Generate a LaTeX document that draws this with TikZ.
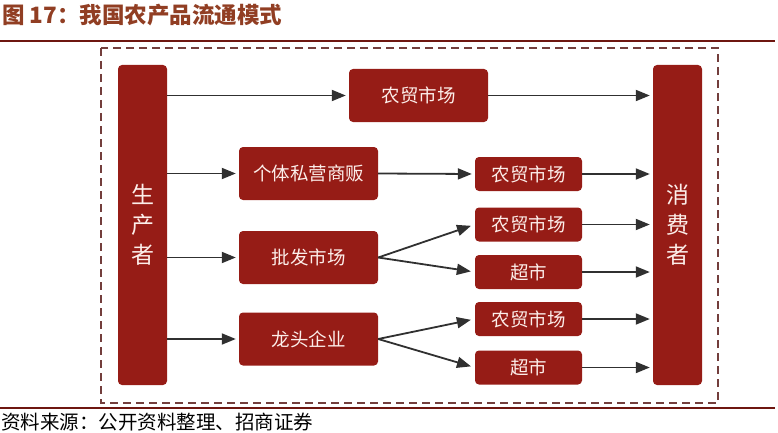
\documentclass[tikz,border=0pt]{standalone}
\usepackage{fontspec}
\setmainfont{Noto Sans CJK SC}
\usetikzlibrary{arrows.meta}
\definecolor{boxred}{RGB}{150,28,22}
\definecolor{boxtext}{RGB}{252,238,234}
\definecolor{arrowgray}{RGB}{48,48,48}
\definecolor{rulered}{RGB}{110,22,16}
\definecolor{dashgray}{RGB}{115,62,60}
\definecolor{titlebrown}{RGB}{145,62,35}
\tikzset{b/.style={rectangle,fill=boxred,rounded corners=4pt,text=boxtext,inner sep=0pt,font=\fontsize{18.5}{18}\selectfont}}
\tikzset{big/.style={b,minimum width=139pt,minimum height=53pt}}
\tikzset{sm/.style={b,minimum width=107pt,minimum height=34pt}}
\tikzset{side/.style={b,minimum width=49pt,minimum height=320pt,align=center,font=\fontsize{23}{30}\selectfont}}
\tikzset{a/.style={-{Triangle[length=14pt,width=11pt]},line width=1.8pt,draw=arrowgray}}

\begin{document}
\begin{tikzpicture}[x=1pt,y=-1pt]
      \useasboundingbox (0,0) rectangle (778,433);
      % title and rules
      \node[anchor=west,inner sep=0pt,text=titlebrown,font=\fontsize{22.5}{23}\selectfont\bfseries] (title) at (2,15) {图 17：我国农产品流通模式};
      \draw[rulered,line width=2pt] (0,41) -- (775,41);
      \draw[rulered,line width=2pt] (0,408) -- (775,408);
      \draw[dashgray,line width=1.8pt,dash pattern=on 8pt off 5pt] (101,48) rectangle (718,403);
      \node[anchor=west,inner sep=0pt,font=\fontsize{19.5}{20}\selectfont] (src) at (1,422) {资料来源：公开资料整理、招商证券};
      % producer and consumer
      \node[side] (P) at (142.5,225) {生\\产\\者};
      \node[side] (C) at (677.5,225) {消\\费\\者};
      % first stage
      \node[big] (M0) at (418.5,95.5) {农贸市场};
      \node[big] (G) at (308.5,173.5) {个体私营商贩};
      \node[big] (W) at (308.5,257.5) {批发市场};
      \node[big] (L) at (308.5,339) {龙头企业};
      % second stage
      \node[sm] (M1) at (528.5,174) {农贸市场};
      \node[sm] (M2) at (528.5,224.5) {农贸市场};
      \node[sm] (S1) at (528.5,272) {超市};
      \node[sm] (M3) at (528.5,319) {农贸市场};
      \node[sm] (S2) at (528.5,367.5) {超市};
      % arrows
      \draw[a,shorten >=3pt] (P.east |- M0.west) -- (M0.west);
      \draw[a,shorten >=3pt] (P.east |- G.west) -- (G.west);
      \draw[a,shorten >=3pt] (P.east |- W.west) -- (W.west);
      \draw[a,shorten >=3pt] (P.east |- L.west) -- (L.west);
      \draw[a,shorten >=3pt] (G.east) -- (M1.west);
      \draw[a,shorten >=4pt] (W.east) -- (M2.west);
      \draw[a,shorten >=4pt] (W.east) -- (S1.west);
      \draw[a,shorten >=4pt] (L.east) -- (M3.west);
      \draw[a,shorten >=4pt] (L.east) -- (S2.west);
      \foreach \n in {M0,M1,M2,S1,M3,S2}
        \draw[a,shorten >=3pt] (\n.east) -- (C.west |- \n.east);
    \end{tikzpicture}
\end{document}
